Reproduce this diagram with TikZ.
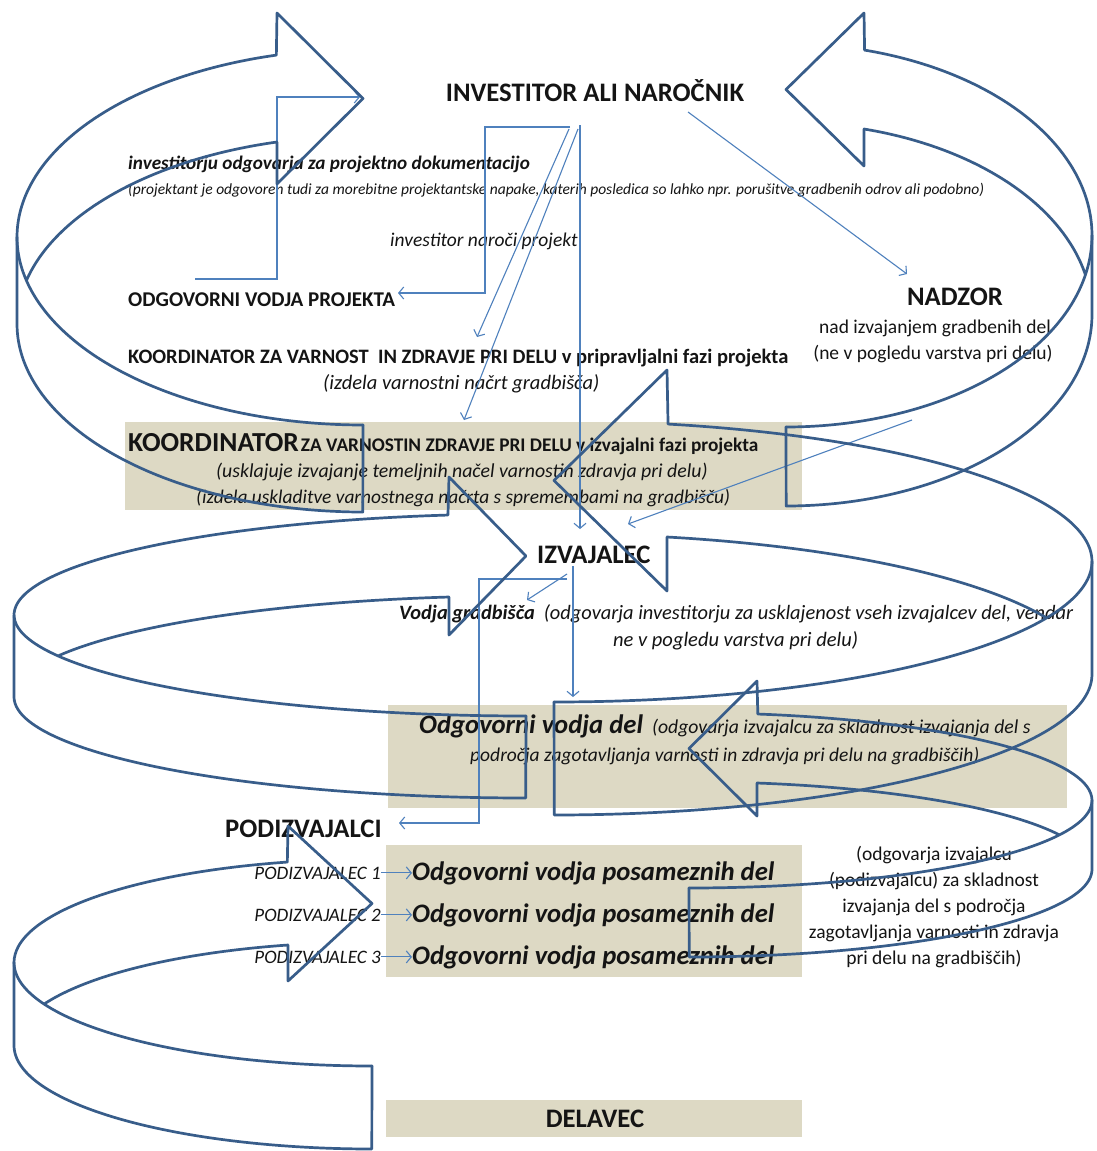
\documentclass[tikz,border=0pt]{standalone}
\usepackage{fontspec}
\setmainfont{Carlito}
\usetikzlibrary{arrows.meta}
\definecolor{arrowblue}{RGB}{56,93,138}
\definecolor{connblue}{RGB}{79,129,189}
\definecolor{boxbeige}{RGB}{221,217,196}
\definecolor{txt}{RGB}{20,20,20}
% curved 3D ribbon arrow: #1 tip/tail x, #2 x-radius, #3 shaft offset from tip, #4 shaft top y,
% #5 tail top y, #6 band width, #7 barb overhang, #8 xscale (1 = band on left, -1 = band on right)
\newcommand{\carrow}[8]{%
  \pgfmathsetmacro{\cas}{sqrt(1-(#3/#2)^2)}%
  \pgfmathsetmacro{\cary}{(#5-#4)/(1+\cas)}%
  \pgfmathsetmacro{\carcy}{#5-\cary}%
  \pgfmathsetmacro{\carts}{180+acos(#3/#2)}%
  \pgfmathsetmacro{\cartc}{180+asin(#6/(2*\cary))}%
  \pgfmathsetmacro{\cartip}{#4+#6/2}%
  \begin{scope}[shift={(#1,0)},xscale=#8]
    \draw[bigarrow]
      plot[domain=0:1,samples=80,smooth,variable=\pp]
        ({#2*cos(90+\pp*(\carts-90))},{\carcy+\cary*sin(90+\pp*(\carts-90))})
      -- (-#3,#4-#7) -- (0,\cartip) -- (-#3,#4+#6+#7) -- (-#3,#4+#6)
      -- plot[domain=0:1,samples=40,smooth,variable=\pp]
        ({#2*cos(\carts-\pp*(\carts-\cartc))},{\carcy+#6+\cary*sin(\carts-\pp*(\carts-\cartc))});
    \draw[bigarrow] (-#2,\carcy) -- (-#2,\carcy+#6)
      -- plot[domain=0:1,samples=50,smooth,variable=\pp]
        ({#2*cos(180-90*\pp)},{\carcy+#6+\cary*sin(180-90*\pp)})
      -- (0,#5);
  \end{scope}}
\begin{document}
\begin{tikzpicture}[x=1pt,y=-1pt,
  bigarrow/.style={draw=arrowblue,line width=2.7pt,line join=round,line cap=round},
  conn/.style={draw=connblue,line width=1.1pt,-{Straight Barb[length=5pt,width=12pt]}},
  box/.style={fill=boxbeige,draw=none,inner sep=0pt,anchor=north west},
  every node/.style={inner sep=0pt,text=txt},
  tbig/.style={font=\fontsize{26.7}{30}\selectfont\bfseries},
  tbigi/.style={font=\fontsize{26.7}{30}\selectfont\bfseries\itshape},
  tmedb/.style={font=\fontsize{20.5}{24}\selectfont\bfseries},
  tmedbi/.style={font=\fontsize{19.2}{23}\selectfont\bfseries\itshape},
  tmedi/.style={font=\fontsize{19.5}{23}\selectfont\itshape},
  tmed/.style={font=\fontsize{19.5}{23}\selectfont},
  tsmalli/.style={font=\fontsize{15.5}{18}\selectfont\itshape},
  tright/.style={font=\fontsize{19.5}{22}\selectfont,anchor=base},
  tpod/.style={font=\fontsize{19}{22}\selectfont\itshape,anchor=base east}]
\useasboundingbox (0,0) rectangle (1097,1151);
\fill[white] (0,0) rectangle (1097,1151);
\clip (0,0) rectangle (1097,1151);

% boxes
\node[box,minimum width=677pt,minimum height=88pt] (box1) at (125,422) {};
\node[box,minimum width=679pt,minimum height=103pt] (box2) at (388,705) {};
\node[box,minimum width=416pt,minimum height=132pt] (box3) at (386,845) {};
\node[box,minimum width=416pt,minimum height=37pt] (box4) at (386,1100) {};

% texts
\node[tbig,anchor=base] (inv) at (595,101) {INVESTITOR ALI NAROČNIK};
\node[tmedbi,anchor=base west] (invodg) at (128,169) {investitorju odgovarja za projektno dokumentacijo};
\node[tsmalli,anchor=base west] (projnote) at (128,194) {(projektant je odgovoren tudi za morebitne projektantske napake, katerih posledica so lahko npr. porušitve gradbenih odrov ali podobno)};
\node[tmedi,anchor=base west] (narproj) at (390,246) {investitor naroči projekt};
\node[font=\fontsize{21}{24}\selectfont\bfseries,anchor=base west] (ovp) at (128,306) {ODGOVORNI VODJA PROJEKTA};
\node[tbig,anchor=base] (nadzor) at (955,305) {NADZOR};
\node[tmed,anchor=base] (nad1) at (935,333) {nad izvajanjem gradbenih del};
\node[tmed,anchor=base] (nad2) at (933,359) {(ne v pogledu varstva pri delu)};
\node[tmedb,anchor=base west] (kpri) at (128,363) {KOORDINATOR ZA VARNOST\ \ IN ZDRAVJE PRI DELU v pripravljalni fazi projekta};
\node[font=\fontsize{20.5}{24}\selectfont\itshape,anchor=base west] (kpri2) at (323,389) {(izdela varnostni načrt gradbišča)};
\node[anchor=base west] (kizv) at (128,451) {{\fontsize{27.5}{30}\selectfont\bfseries KOORDINATOR}\hspace{2pt}{\fontsize{19.3}{22}\selectfont\bfseries ZA VARNOSTIN ZDRAVJE PRI DELU v izvajalni fazi projekta}};
\node[font=\fontsize{19.8}{22}\selectfont\itshape,anchor=base west] (kizv2) at (216,477) {(usklajuje izvajanje temeljnih načel varnostin zdravja pri delu)};
\node[font=\fontsize{19.4}{22}\selectfont\itshape,anchor=base west] (kizv3) at (196,503) {(izdela uskladitve varnostnega načrta s spremembami na gradbišču)};
\node[tbig,anchor=base west] (izv) at (537,563) {IZVAJALEC};
\node[font=\fontsize{20.4}{23}\selectfont\itshape,anchor=base west] (vg) at (399,619) {{\bfseries Vodja gradbišča}\hspace{9pt}(odgovarja investitorju za usklajenost vseh izvajalcev del, vendar};
\node[font=\fontsize{20.5}{23}\selectfont\itshape,anchor=base west] (vg2) at (613,646) {ne v pogledu varstva pri delu)};
\node[anchor=base west] (ovd) at (419,733) {{\fontsize{26.7}{30}\selectfont\bfseries\itshape Odgovorni vodja del}\hspace{9pt}{\fontsize{19.7}{22}\selectfont\itshape (odgovarja izvajalcu za skladnost izvajanja del s}};
\node[font=\fontsize{19.5}{22}\selectfont\itshape,anchor=base west] (ovd2) at (470,761) {področja zagotavljanja varnosti in zdravja pri delu na gradbiščih)};
\node[tbig,anchor=base west] (podiz) at (225,837) {PODIZVAJALCI};
\node[tpod] (p1) at (381,879) {PODIZVAJALEC 1};
\node[tpod] (p2) at (381,921) {PODIZVAJALEC 2};
\node[tpod] (p3) at (381,963) {PODIZVAJALEC 3};
\node[tbigi,anchor=base west] (o1) at (412,880) {Odgovorni vodja posameznih del};
\node[tbigi,anchor=base west] (o2) at (412,922) {Odgovorni vodja posameznih del};
\node[tbigi,anchor=base west] (o3) at (412,964) {Odgovorni vodja posameznih del};
\node[tright] (rb1) at (934,860) {(odgovarja izvajalcu};
\node[tright] (rb2) at (934,886) {(podizvajalcu) za skladnost};
\node[tright] (rb3) at (934,912) {izvajanja del s področja};
\node[tright] (rb4) at (934,938) {zagotavljanja varnosti in zdravja};
\node[tright] (rb5) at (934,964) {pri delu na gradbiščih)};
\node[tbig,anchor=base] (delavec) at (595,1127) {DELAVEC};

% connector anchor points
\coordinate (ovpTop) at (195,279);
\coordinate (bendA) at (277,97);
\coordinate (invW) at (360,97);
\coordinate (invS1) at (570,127);
\coordinate (bendB) at (485,127);
\coordinate (ovpE) at (398,293);
\coordinate (invS2) at (569,129);
\coordinate (kpriN) at (477,337);
\coordinate (invS3) at (578,129);
\coordinate (box1N) at (464,420);
\coordinate (invS4) at (580,125);
\coordinate (izvN) at (580,529);
\coordinate (invSE) at (688,112);
\coordinate (nadzorNW) at (907,274);
\coordinate (nadzorS) at (912,420);
\coordinate (izvNE) at (628,524);
\coordinate (izvS1) at (567,574);
\coordinate (vgNE) at (527,600);
\coordinate (izvS2) at (573,566);
\coordinate (ovdN) at (573,697);
\coordinate (izvS3) at (567,579);
\coordinate (bendC) at (479,579);
\coordinate (podizE) at (399,823);

% connectors
\draw[conn] (ovpTop) -| (bendA) -- (invW);
\draw[conn] (invS1) -- (bendB) |- (ovpE);
\draw[conn] (invS2) -- (kpriN);
\draw[conn] (invS3) -- (box1N);
\draw[conn] (invS4) -- (izvN);
\draw[conn] (invSE) -- (nadzorNW);
\draw[conn] (nadzorS) -- (izvNE);
\draw[conn] (izvS1) -- (vgNE);
\draw[conn] (izvS2) -- (ovdN);
\draw[conn] (izvS3) -- (bendC) |- (podizE);
\draw[conn] (p1.east) -- (p1.east -| o1.west);
\draw[conn] (p2.east) -- (p2.east -| o2.west);
\draw[conn] (p3.east) -- (p3.east -| o3.west);

% big curved ribbon arrows
\carrow{363}{346}{86}{55}{425}{87}{42}{1}
\carrow{786}{306}{78}{50}{427}{79}{37}{-1}
\carrow{526}{512}{77}{515}{716}{82}{38}{1}
\carrow{554}{538}{113}{424}{702}{113}{54}{-1}
\carrow{689}{403}{68}{714}{888}{69}{33}{-1}
\carrow{372}{358}{84}{862}{1066}{83}{36}{1}
\end{tikzpicture}
\end{document}
